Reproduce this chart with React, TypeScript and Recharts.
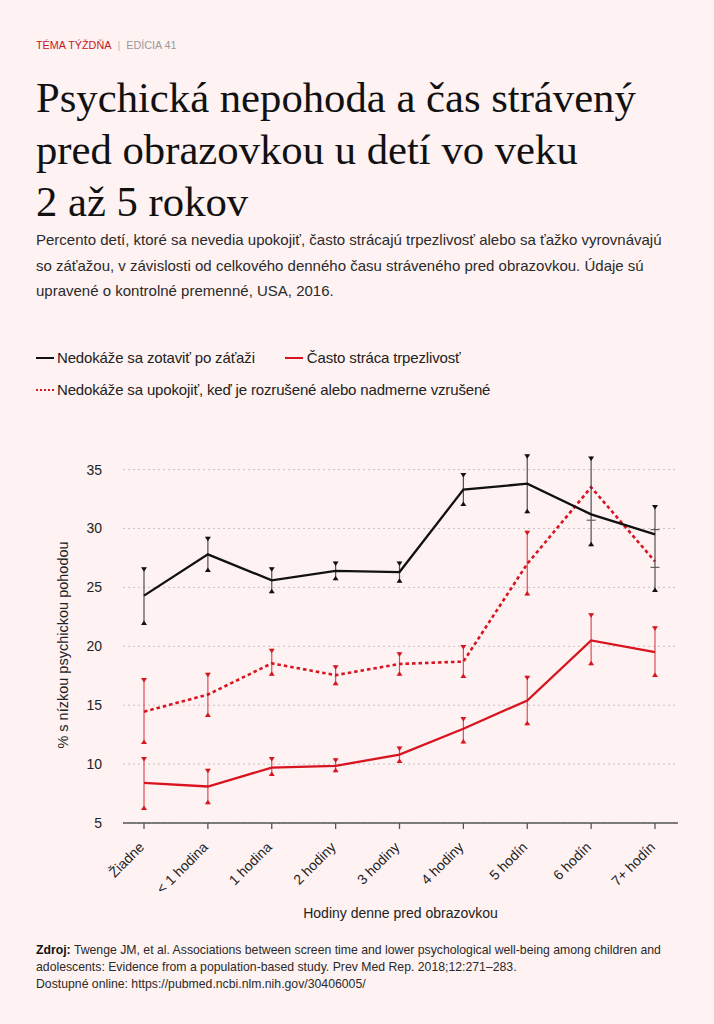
import { CartesianGrid, ComposedChart, ErrorBar, Line, XAxis, YAxis } from "recharts";

const categories = ["Žiadne", "< 1 hodina", "1 hodina", "2 hodiny", "3 hodiny", "4 hodiny", "5 hodín", "6 hodín", "7+ hodín"];

// Nedokáže sa zotaviť po záťaži
const recover = [24.3, 27.8, 25.6, 26.4, 26.3, 33.3, 33.8, 31.2, 29.5];
const recoverLo = [21.8, 26.3, 24.5, 25.6, 25.4, 31.9, 31.3, 28.5, 24.6];
const recoverHi = [26.7, 29.3, 26.7, 27.2, 27.2, 34.7, 36.3, 36.1, 32.0];

// Často stráca trpezlivosť
const patience = [8.4, 8.1, 9.7, 9.85, 10.8, 13.0, 15.4, 20.5, 19.5];
const patienceLo = [6.1, 6.6, 9.0, 9.3, 10.1, 11.75, 13.3, 18.4, 17.4];
const patienceHi = [10.6, 9.6, 10.6, 10.5, 11.5, 14.0, 17.5, 22.8, 21.7];

// Nedokáže sa upokojiť, keď je rozrušené alebo nadmerne vzrušené
const calm = [14.45, 15.9, 18.55, 17.55, 18.5, 18.7, 27.0, 33.5, 27.2];
const calmLo = [11.7, 14.0, 17.5, 16.7, 17.5, 17.3, 24.3, 30.7, 26.7];
const calmHi = [17.3, 17.75, 19.8, 18.4, 19.5, 20.1, 29.8, null, 29.9];
// the last two intervals only show as flat grey ticks in the source
const calmGreyFrom = 7;

const yTicks = [5, 10, 15, 20, 25, 30, 35];

const RED = "#d7141f";
const BLACK = "#111";
const SANS = '"Liberation Sans", Arial, Helvetica, sans-serif';

const data = categories.map((cat, i) => {
  const grey = i >= calmGreyFrom;
  return {
    cat,
    recover: recover[i],
    recoverErr: [recover[i] - recoverLo[i], recoverHi[i] - recover[i]],
    recoverLo: recoverLo[i],
    recoverHi: recoverHi[i],
    patience: patience[i],
    patienceErr: [patience[i] - patienceLo[i], patienceHi[i] - patience[i]],
    patienceLo: patienceLo[i],
    patienceHi: patienceHi[i],
    calm: calm[i],
    calmRed: grey ? null : calm[i],
    calmErr: grey ? null : [calm[i] - calmLo[i], (calmHi[i] as number) - calm[i]],
    calmLo: grey ? null : calmLo[i],
    calmHi: grey ? null : calmHi[i],
    calmGreyLo: grey ? calmLo[i] : null,
    calmGreyHi: grey ? calmHi[i] : null,
  };
});

const cap = (color: string, down: boolean) => (props: any) => {
  const { cx, cy, value, index } = props;
  if (cx == null || cy == null || value == null || Number.isNaN(cy)) return <g key={`c-${index}`} />;
  const d = down
    ? `M${cx - 3},${cy} L${cx + 3},${cy} L${cx},${cy + 4.5} Z`
    : `M${cx - 3},${cy} L${cx + 3},${cy} L${cx},${cy - 4.5} Z`;
  return <path key={`c-${index}`} d={d} fill={color} />;
};

const flatCap = (props: any) => {
  const { cx, cy, value, index } = props;
  if (cx == null || cy == null || value == null || Number.isNaN(cy)) return <g key={`f-${index}`} />;
  return <line key={`f-${index}`} x1={cx - 4.5} x2={cx + 4.5} y1={cy} y2={cy} stroke="#555" strokeWidth={1.1} />;
};

const XTick = (props: any) => {
  const { x, y, payload } = props;
  return (
    <g transform={`translate(${x + 1},${y + 17})`}>
      <text textAnchor="end" transform="rotate(-45)" fill="#222" fontSize={14} fontFamily={SANS}>
        {payload.value}
      </text>
    </g>
  );
};

export default function App() {
  return (
    <div
      style={{
        position: "absolute",
        left: 0,
        top: 0,
        width: 714,
        height: 1024,
        background: "#fef2f2",
        fontFamily: SANS,
        color: "#222",
        overflow: "hidden",
      }}
    >
      <div style={{ position: "absolute", left: 36, top: 38, fontSize: 10.8, lineHeight: "14px", whiteSpace: "nowrap" }}>
        <span style={{ color: "#c8161d" }}>TÉMA TÝŽDŇA</span>
        <span style={{ color: "#bbb", margin: "0 6px" }}>|</span>
        <span style={{ color: "#9a9a9a" }}>EDÍCIA 41</span>
      </div>

      <div
        style={{
          position: "absolute",
          left: 36,
          top: 72,
          width: 670,
          fontFamily: '"Liberation Serif", "Times New Roman", serif',
          fontSize: 42.7,
          lineHeight: "52px",
          color: "#111",
          whiteSpace: "nowrap",
        }}
      >
        Psychická nepohoda a čas strávený
        <br />
        pred obrazovkou u detí vo veku
        <br />2 až 5 rokov
      </div>

      <div style={{ position: "absolute", left: 36, top: 227, width: 670, fontSize: 15, lineHeight: "25.5px", color: "#2a2a2a", whiteSpace: "nowrap" }}>
        Percento detí, ktoré sa nevedia upokojiť, často strácajú trpezlivosť alebo sa ťažko vyrovnávajú
        <br />
        so záťažou, v závislosti od celkového denného času stráveného pred obrazovkou. Údaje sú
        <br />
        upravené o kontrolné premenné, USA, 2016.
      </div>

      <div style={{ position: "absolute", left: 36, top: 348, fontSize: 15, lineHeight: "20px", whiteSpace: "nowrap", display: "flex", alignItems: "center" }}>
        <span style={{ display: "inline-block", width: 18, height: 0, borderTop: `2.5px solid ${BLACK}`, marginRight: 3 }} />
        <span style={{ letterSpacing: -0.15 }}>Nedokáže sa zotaviť po záťaži</span>
        <span style={{ display: "inline-block", width: 18, height: 0, borderTop: `2.5px solid ${RED}`, marginLeft: 30, marginRight: 4 }} />
        <span style={{ letterSpacing: -0.15 }}>Často stráca trpezlivosť</span>
      </div>
      <div style={{ position: "absolute", left: 36, top: 380, fontSize: 15, lineHeight: "20px", whiteSpace: "nowrap", display: "flex", alignItems: "center" }}>
        <span style={{ display: "inline-block", width: 18, height: 0, borderTop: `2.5px dotted ${RED}`, marginRight: 3 }} />
        <span style={{ letterSpacing: -0.15 }}>Nedokáže sa upokojiť, keď je rozrušené alebo nadmerne vzrušené</span>
      </div>

      <div
        style={{
          position: "absolute",
          left: 63,
          top: 645,
          transform: "translate(-50%, -50%) rotate(-90deg)",
          fontSize: 14.5,
          whiteSpace: "nowrap",
          color: "#222",
        }}
      >
        % s nízkou psychickou pohodou
      </div>

      <div style={{ position: "absolute", left: 0, top: 420 }}>
        <ComposedChart width={714} height={500} data={data} margin={{ top: 26, right: 36, bottom: 57, left: 63 }}>
          <CartesianGrid vertical={false} horizontalValues={yTicks} stroke="#c8c2c2" strokeDasharray="2 3" />
          <XAxis
            dataKey="cat"
            type="category"
            scale="point"
            padding={{ left: 21, right: 23 }}
            height={40}
            axisLine={{ stroke: "#555", strokeWidth: 1.3 }}
            tickLine={{ stroke: "#555", strokeWidth: 1.3 }}
            tickSize={6}
            interval={0}
            tick={<XTick />}
          />
          <YAxis
            type="number"
            domain={[5, 37]}
            ticks={yTicks}
            allowDataOverflow
            width={60}
            axisLine={false}
            tickLine={false}
            tickSize={6}
            tickMargin={15}
            tick={{ fill: "#222", fontSize: 14, fontFamily: SANS }}
          />

          <Line dataKey="calmRed" stroke="none" dot={false} activeDot={false} isAnimationActive={false} legendType="none">
            <ErrorBar dataKey="calmErr" width={0} stroke={RED} strokeOpacity={0.75} strokeWidth={1.2} direction="y" />
          </Line>
          <Line dataKey="patience" stroke={RED} strokeWidth={2.3} dot={false} activeDot={false} isAnimationActive={false}>
            <ErrorBar dataKey="patienceErr" width={0} stroke={RED} strokeOpacity={0.75} strokeWidth={1.2} direction="y" />
          </Line>
          <Line dataKey="calm" stroke={RED} strokeWidth={2.6} strokeDasharray="3.5 3" dot={false} activeDot={false} isAnimationActive={false} />
          <Line dataKey="patienceHi" stroke="none" dot={cap(RED, true)} activeDot={false} isAnimationActive={false} />
          <Line dataKey="patienceLo" stroke="none" dot={cap(RED, false)} activeDot={false} isAnimationActive={false} />
          <Line dataKey="calmHi" stroke="none" dot={cap(RED, true)} activeDot={false} isAnimationActive={false} />
          <Line dataKey="calmLo" stroke="none" dot={cap(RED, false)} activeDot={false} isAnimationActive={false} />

          <Line dataKey="recover" stroke={BLACK} strokeWidth={2.3} dot={false} activeDot={false} isAnimationActive={false}>
            <ErrorBar dataKey="recoverErr" width={0} stroke="#333" strokeOpacity={0.85} strokeWidth={1.2} direction="y" />
          </Line>
          <Line dataKey="recoverHi" stroke="none" dot={cap(BLACK, true)} activeDot={false} isAnimationActive={false} />
          <Line dataKey="recoverLo" stroke="none" dot={cap(BLACK, false)} activeDot={false} isAnimationActive={false} />

          <Line dataKey="calmGreyLo" stroke="none" dot={flatCap} activeDot={false} isAnimationActive={false} />
          <Line dataKey="calmGreyHi" stroke="none" dot={flatCap} activeDot={false} isAnimationActive={false} />
        </ComposedChart>
      </div>

      <div
        style={{
          position: "absolute",
          left: 123,
          width: 555,
          top: 904,
          textAlign: "center",
          fontSize: 14,
          lineHeight: "18px",
          color: "#222",
        }}
      >
        Hodiny denne pred obrazovkou
      </div>

      <div style={{ position: "absolute", left: 36, top: 942, width: 678, fontSize: 12.25, lineHeight: "17px", color: "#2a2a2a", whiteSpace: "nowrap" }}>
        <b style={{ color: "#111" }}>Zdroj:</b> Twenge JM, et al. Associations between screen time and lower psychological well-being among children and
        <br />
        adolescents: Evidence from a population-based study. Prev Med Rep. 2018;12:271–283.
        <br />
        Dostupné online: https://pubmed.ncbi.nlm.nih.gov/30406005/
      </div>
    </div>
  );
}
